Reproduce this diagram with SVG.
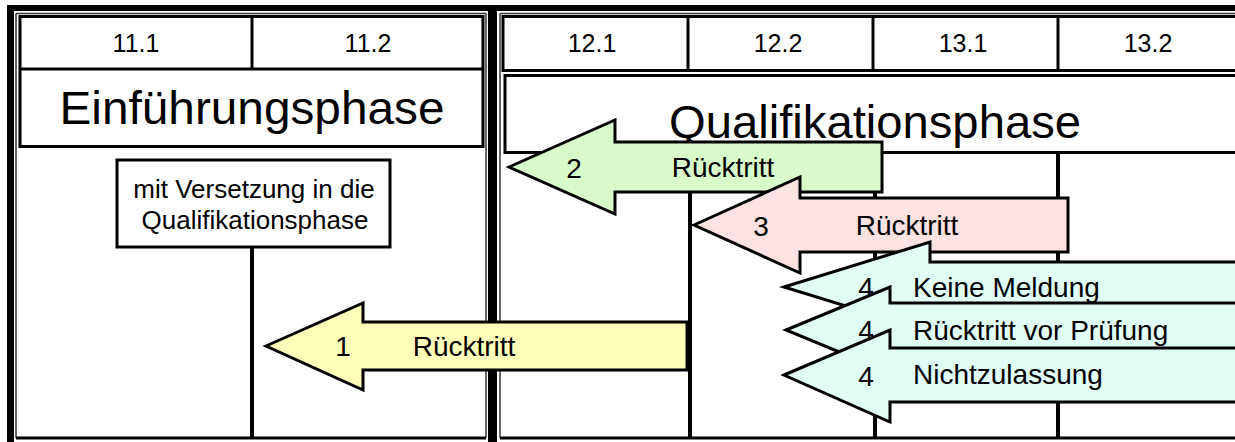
<svg xmlns="http://www.w3.org/2000/svg" width="1235" height="442" viewBox="0 0 1235 442">
<style>
.frame{fill:none;stroke:#000;stroke-width:3}
.thin{fill:none;stroke:#333;stroke-width:1.5}
.bar{fill:#000}
.t{font-family:"Liberation Sans",Arial,sans-serif;fill:#000;text-anchor:middle}
.st{text-anchor:start}
.hd{font-size:25px}
.ti{font-size:47px}
.bx{font-size:26px}
.sm{font-size:28px}
.arr{stroke:#000;stroke-width:3;stroke-linejoin:miter}
.line{stroke:#000;stroke-width:4;fill:none}
</style>
<rect x="0" y="0" width="1235" height="442" fill="#fff"/>
<g id="frame">
<rect class="bar" x="7" y="5" width="1228" height="6"/>
<rect class="bar" x="7" y="5" width="7" height="437"/>
<rect class="bar" x="488" y="5" width="9" height="437"/>
<line class="thin" x1="16" y1="13.5" x2="486" y2="13.5"/>
<line class="thin" x1="16" y1="13.5" x2="16" y2="438"/>
<line class="thin" x1="486" y1="13.5" x2="486" y2="438"/>
<line class="thin" x1="500" y1="13.5" x2="1235" y2="13.5"/>
<line class="thin" x1="500" y1="13.5" x2="500" y2="438"/>
<line class="frame" x1="16" y1="438" x2="486" y2="438"/>
<line class="frame" x1="500" y1="438" x2="1235" y2="438"/>
</g>
<g id="hdr-left">
<rect class="frame" x="20" y="16.5" width="463" height="130"/>
<line class="frame" x1="20" y1="69" x2="483" y2="69"/>
<line class="frame" x1="252" y1="16.5" x2="252" y2="69"/>
<text class="t hd" x="136" y="52">11.1</text>
<text class="t hd" x="368" y="52">11.2</text>
</g>
<g id="title-left">
<text class="t ti" x="252" y="124" textLength="385" lengthAdjust="spacingAndGlyphs">Einführungsphase</text>
</g>
<g id="hdr-right">
<rect class="frame" x="503" y="16.5" width="740" height="54"/>
<line class="frame" x1="688" y1="16.5" x2="688" y2="70.5"/>
<line class="frame" x1="873" y1="16.5" x2="873" y2="70.5"/>
<line class="frame" x1="1058" y1="16.5" x2="1058" y2="70.5"/>
<text class="t hd" x="592" y="52">12.1</text>
<text class="t hd" x="778" y="52">12.2</text>
<text class="t hd" x="963" y="52">13.1</text>
<text class="t hd" x="1148" y="52">13.2</text>
</g>
<g id="title-right">
<rect class="frame" x="505" y="75.5" width="738" height="77"/>
<text class="t ti" x="875" y="138" textLength="412" lengthAdjust="spacingAndGlyphs">Qualifikationsphase</text>
</g>
<g id="connectors">
<line class="line" x1="252" y1="247" x2="252" y2="438"/>
<line class="line" x1="690" y1="153" x2="690" y2="438"/>
<line class="line" x1="875" y1="153" x2="875" y2="438"/>
<line class="line" x1="1058" y1="153" x2="1058" y2="438"/>
</g>
<g id="box-versetzung">
<rect class="frame" x="117" y="160" width="273" height="87" fill="#fff"/>
<text class="t bx" x="254" y="198">mit Versetzung in die</text>
<text class="t bx" x="255" y="229">Qualifikationsphase</text>
</g>
<g id="arrow-1">
<polygon class="arr" fill="#ffffb9" points="266,346 363,303 363,322 687,322 687,370 363,370 363,390"/>
<text class="t sm" x="343" y="356">1</text>
<text class="t sm" x="464" y="356">Rücktritt</text>
</g>
<g id="arrow-2">
<polygon class="arr" fill="#d7fcca" points="509,167 615,120 615,142 882,142 882,192 615,192 615,214"/>
<text class="t sm" x="574" y="178">2</text>
<text class="t sm" x="723" y="177">Rücktritt</text>
</g>
<g id="arrow-3">
<polygon class="arr" fill="#fde2e2" points="694,225 800,177 800,198 1068,198 1068,252 800,252 800,273"/>
<text class="t sm" x="761" y="236">3</text>
<text class="t sm" x="907" y="235">Rücktritt</text>
</g>
<g id="arrow-4a">
<polygon class="arr" fill="#e0fdf6" points="784,287 930,242 930,262 1245,262 1245,312 930,312 930,332"/>
<text class="t sm" x="866" y="297">4</text>
<text class="t sm st" x="913" y="297">Keine Meldung</text>
</g>
<g id="arrow-4b">
<polygon class="arr" fill="#e0fdf6" points="786,330 890,287 890,303 1245,303 1245,357 890,357 890,373"/>
<text class="t sm" x="866" y="340">4</text>
<text class="t sm st" x="913" y="340">Rücktritt vor Prüfung</text>
</g>
<g id="arrow-4c">
<polygon class="arr" fill="#e0fdf6" points="784,375 890,330 890,348 1245,348 1245,402 890,402 890,422"/>
<text class="t sm" x="866" y="386">4</text>
<text class="t sm st" x="913" y="384">Nichtzulassung</text>
</g>
</svg>
